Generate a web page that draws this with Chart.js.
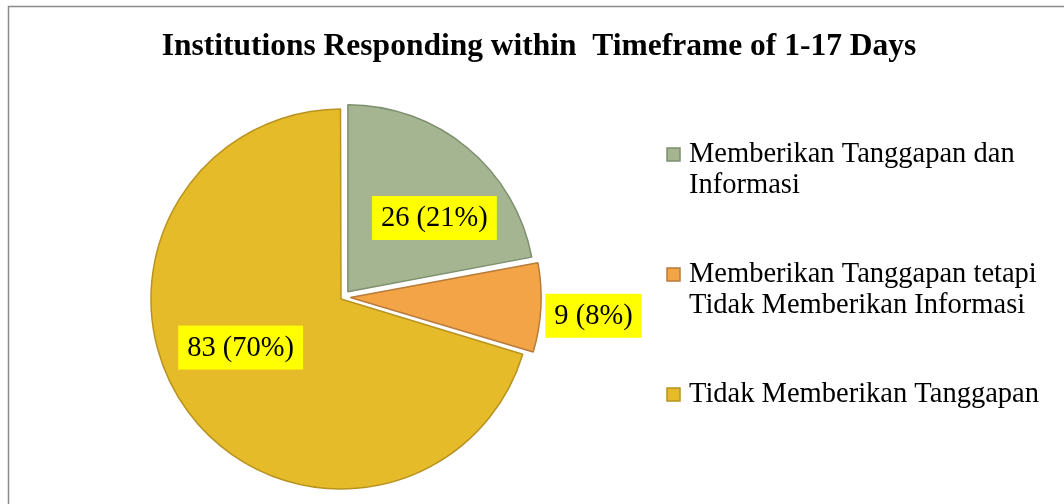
<!DOCTYPE html>
<html>
<head>
<meta charset="utf-8">
<script src="https://cdn.jsdelivr.net/npm/chart.js@4.4.0/dist/chart.umd.min.js"></script>
<style>
  body { margin: 0; background: #fff; }
  #wrap { width: 1064px; height: 504px; }
</style>
</head>
<body>
<div id="wrap"><canvas id="pieChart" width="1064" height="504"></canvas></div>
<script>
// chart data
const chartTitle = 'Institutions Responding within  Timeframe of 1-17 Days';
const categories = [
    ['Memberikan Tanggapan dan', 'Informasi'],
    ['Memberikan Tanggapan tetapi', 'Tidak Memberikan Informasi'],
    ['Tidak Memberikan Tanggapan']
];
const counts = [26, 9, 83];
const percents = [21, 8, 70];

const fillColors = ['#a5b592', '#f2a447', '#e5bb2a'];
const edgeColors = ['#7d8f6e', '#b97b3a', '#b8931f'];
const FONT = "'Liberation Serif', 'Times New Roman', serif";

// where each value label sits: fraction of radius, extra turn in degrees
const labelSpots = [
    { r: 0.645, turn: 9.3 },
    { r: 1.341, turn: 1.2 },
    { r: 0.612, turn: 10.5 }
];

// frame + title behind the pie
const framePlugin = {
    id: 'frame',
    beforeDraw(chart) {
        const ctx = chart.ctx;
        ctx.save();
        ctx.fillStyle = '#ffffff';
        ctx.fillRect(0, 0, chart.width, chart.height);
        ctx.strokeStyle = '#8a8a8a';
        ctx.lineWidth = 1.5;
        ctx.strokeRect(8.5, 6.5, chart.width + 20, chart.height + 20);

        ctx.fillStyle = '#000000';
        ctx.font = 'bold 31.5px ' + FONT;
        ctx.textAlign = 'center';
        ctx.textBaseline = 'alphabetic';
        ctx.fillText(chartTitle, 539, 55);
        ctx.restore();
    }
};

// value labels on yellow boxes and the legend on the right
const labelPlugin = {
    id: 'valueLabels',
    afterDraw(chart) {
        const ctx = chart.ctx;
        const meta = chart.getDatasetMeta(0);
        ctx.save();
        ctx.font = '28.5px ' + FONT;
        ctx.textAlign = 'center';
        ctx.textBaseline = 'middle';

        meta.data.forEach((arc, i) => {
            const p = arc.getProps(['x', 'y', 'startAngle', 'endAngle', 'outerRadius'], true);
            const mid = (p.startAngle + p.endAngle) / 2;
            const a = mid + labelSpots[i].turn * Math.PI / 180;
            const rr = p.outerRadius * labelSpots[i].r;
            const lx = p.x + Math.cos(a) * rr;
            const ly = p.y + Math.sin(a) * rr;
            const text = counts[i] + ' (' + percents[i] + '%)';
            const w = ctx.measureText(text).width + 18;
            const h = 44;
            ctx.fillStyle = '#ffff00';
            ctx.fillRect(lx - w / 2, ly - h / 2, w, h);
            ctx.fillStyle = '#000000';
            ctx.fillText(text, lx, ly + 1);
        });

        // legend
        ctx.textAlign = 'left';
        ctx.textBaseline = 'alphabetic';
        let baseline = 162;
        categories.forEach((lines, i) => {
            ctx.fillStyle = fillColors[i];
            ctx.strokeStyle = edgeColors[i];
            ctx.lineWidth = 1.5;
            ctx.fillRect(667, baseline - 14, 13, 13);
            ctx.strokeRect(667, baseline - 14, 13, 13);
            ctx.fillStyle = '#000000';
            lines.forEach((line, j) => {
                ctx.fillText(line, 689, baseline + j * 31);
            });
            baseline += lines.length * 31 + 58;
        });
        ctx.restore();
    }
};

new Chart(document.getElementById('pieChart'), {
    type: 'pie',
    data: {
        labels: categories,
        datasets: [{
            data: counts,
            backgroundColor: fillColors,
            borderColor: edgeColors,
            borderWidth: 1.5,
            offset: [28, 28, 12]
        }]
    },
    options: {
        responsive: false,
        animation: false,
        radius: 187,
        layout: {
            padding: { left: 150, right: 527.2, top: 100, bottom: 9.6 }
        },
        plugins: {
            legend: { display: false },
            title: { display: false },
            tooltip: { enabled: false }
        }
    },
    plugins: [framePlugin, labelPlugin]
});
</script>
</body>
</html>
